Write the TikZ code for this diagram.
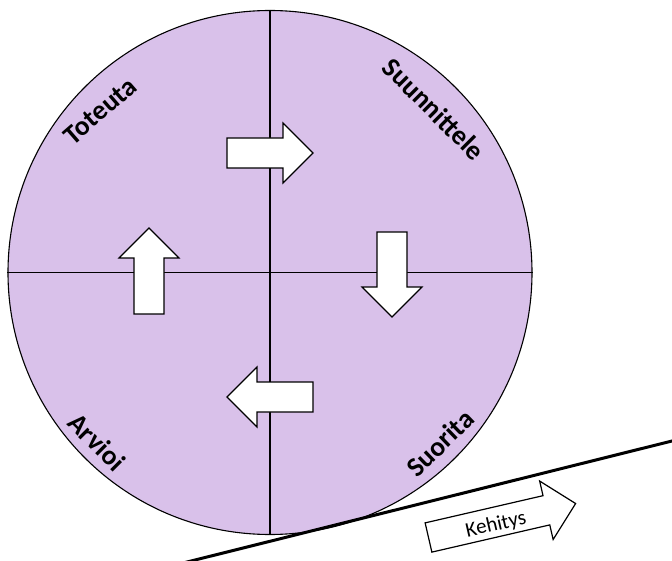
\documentclass[tikz,border=0pt]{standalone}
\usepackage{fontspec}
\setmainfont{Carlito}
\definecolor{wheelfill}{RGB}{217,193,234}
\begin{document}
\begin{tikzpicture}[x=1pt,y=-1pt,
  arrowshape/.style={draw=black,fill=white,line width=1.2pt,line join=miter},
  blockarrow/.pic={\path[arrowshape] (0,-15) -- ({#1-30},-15) -- ({#1-30},-30) -- (#1,0) -- ({#1-30},30) -- ({#1-30},15) -- (0,15) -- cycle;},
  phase/.style={font=\bfseries\fontsize{27.5}{32}\selectfont,inner sep=0pt},
  divider/.style={line width=1.1pt}]
\useasboundingbox (0,0) rectangle (672,561);
\clip (0,0) rectangle (672,561);
\node[circle,draw=black,line width=1.1pt,fill=wheelfill,minimum size=524pt,inner sep=0pt] (wheel) at (270,272.5) {};
\draw[divider] (wheel.north) -- (wheel.south);
\draw[divider] (wheel.west) -- (wheel.east);
% cycle arrows
\pic at (227,153) {blockarrow=86};
\pic[rotate=-90] at (392,232) {blockarrow=85};
\pic[rotate=180] at (313,397) {blockarrow=86};
\pic[rotate=90] at (149,314) {blockarrow=86};
% labels
\node[phase,rotate=-45] (plan) at (434,109) {Suunnittele};
\node[phase,rotate=41] (do) at (100,111) {Toteuta};
\node[phase,rotate=44] (run) at (440,443) {Suorita};
\node[phase,rotate=-45] (eval) at (97,442) {Arvioi};
% ground line
\coordinate (g1) at (185,562.5);
\coordinate (g2) at (680,439);
\draw[line width=3pt] (g1) -- (g2);
% development arrow
\pic[rotate=13] at (428.5,537.5) {blockarrow=151};
\node[rotate=13,font=\fontsize{21}{24}\selectfont,inner sep=0pt] (dev) at (496,525) {Kehitys};
\end{tikzpicture}
\end{document}
